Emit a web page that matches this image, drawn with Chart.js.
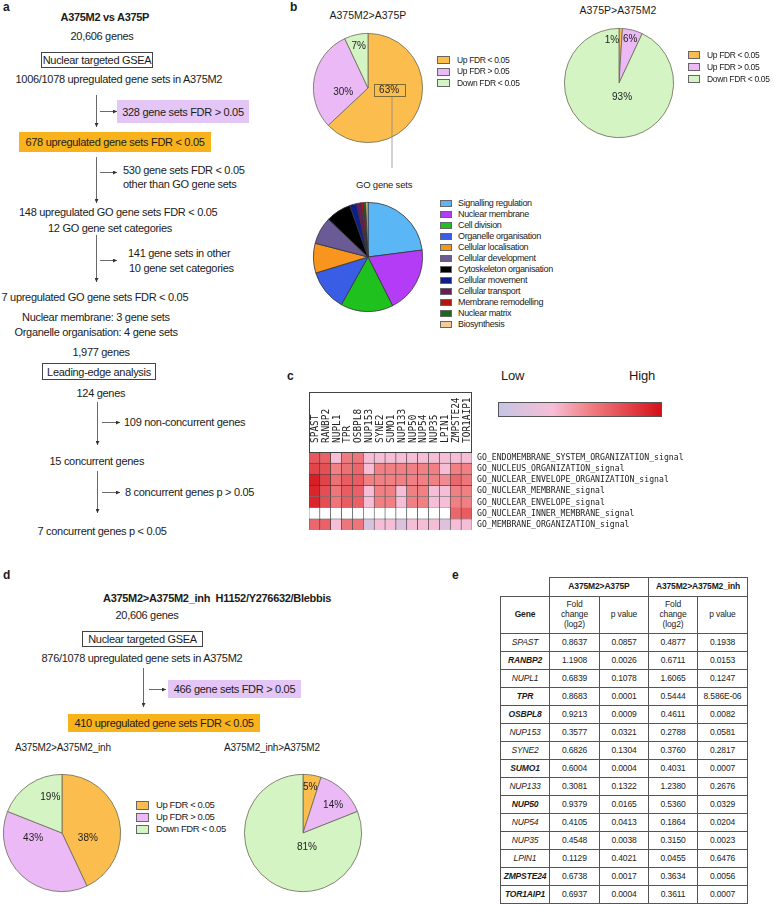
<!DOCTYPE html>
<html>
<head>
<meta charset="utf-8">
<script src="https://cdn.jsdelivr.net/npm/chart.js@4.4.1/dist/chart.umd.min.js"></script>
<style>
  body { margin: 0; background: #fff; }
  #page { position: relative; width: 779px; height: 905px; overflow: hidden;
          font-family: "Liberation Sans", Arial, sans-serif; color: #1b1b1b; }
  .t { position: absolute; white-space: nowrap; line-height: 1; font-size: 11px; letter-spacing: -0.3px; }
  .bold { font-weight: bold; }
  .panel { position: absolute; font-weight: bold; font-size: 12px; line-height: 1; }
  .frame { position: absolute; box-sizing: border-box; border: 1px solid #444; display: flex;
           align-items: center; justify-content: center; white-space: nowrap; font-size: 11px; letter-spacing: -0.3px; }
  .fill { position: absolute; box-sizing: border-box; display: flex; align-items: center;
          justify-content: center; white-space: nowrap; font-size: 11px; letter-spacing: -0.3px; }
  canvas { position: absolute; }
  .leg { position: absolute; white-space: nowrap; line-height: 1; }
  .leg i { position: absolute; box-sizing: border-box; border: 0.8px solid #666; }
  table { position: absolute; left: 500px; top: 577px; border-collapse: collapse; table-layout: fixed;
          font-size: 8.5px; letter-spacing: -0.15px; }
  td { border: 1px solid #555; text-align: center; padding: 0; line-height: 1.15; }
  svg { position: absolute; left: 0; top: 0; }
</style>
</head>
<body>
<div id="page">
  <canvas id="pieB1" width="114" height="114" style="left:311px;top:31px"></canvas>
  <canvas id="pieB2" width="114" height="114" style="left:562px;top:26px"></canvas>
  <canvas id="pieGO" width="114" height="114" style="left:311px;top:200px"></canvas>
  <canvas id="heat" width="470" height="146" style="left:300px;top:388px"></canvas>
  <canvas id="pieD1" width="122" height="122" style="left:1px;top:772px"></canvas>
  <canvas id="pieD2" width="122" height="122" style="left:242px;top:772px"></canvas>
</div>
<script>
// ---- data ----
const pieLabels = ['Up FDR < 0.05', 'Up FDR > 0.05', 'Down FDR < 0.05'];
const pieColors = ['#fbbd4e', '#ebb9f6', '#d4f4c4'];
const b1Values = [63, 30, 7];    // A375M2>A375P
const b2Values = [1, 6, 93];     // A375P>A375M2
const d1Values = [43, 38, 19];   // A375M2>A375M2_inh, slices as drawn
const d1Texts = ['38%', '43%', '19%'];  // percentages as printed on that pie
const d2Values = [5, 14, 81];    // A375M2_inh>A375M2

const goCategories = ['Signalling regulation', 'Nuclear membrane', 'Cell division', 'Organelle organisation',
  'Cellular localisation', 'Cellular development', 'Cytoskeleton organisation', 'Cellular movement',
  'Cellular transport', 'Membrane remodelling', 'Nuclear matrix', 'Biosynthesis'];
const goCounts = [34, 29, 23, 18, 13, 12, 11, 3, 2, 1, 1, 1];
const goColors = ['#5ab6f4', '#b43cf6', '#1fc11f', '#3a5de6', '#f7951e', '#6a5a96',
  '#000000', '#0c1f8a', '#6b1a5c', '#b3160f', '#1a6a1a', '#f6c99b'];

const heatGenes = ['SPAST', 'RANBP2', 'NUPL1', 'TPR', 'OSBPL8', 'NUP153', 'SYNE2', 'SUMO1',
  'NUP133', 'NUP50', 'NUP54', 'NUP35', 'LPIN1', 'ZMPSTE24', 'TOR1AIP1'];
const heatRows = ['GO_ENDOMEMBRANE_SYSTEM_ORGANIZATION_signal', 'GO_NUCLEUS_ORGANIZATION_signal',
  'GO_NUCLEAR_ENVELOPE_ORGANIZATION_signal', 'GO_NUCLEAR_MEMBRANE_signal', 'GO_NUCLEAR_ENVELOPE_signal',
  'GO_NUCLEAR_INNER_MEMBRANE_signal', 'GO_MEMBRANE_ORGANIZATION_signal'];
// relative signal, 0 = low, 1 = high, null = not in the gene set
const heatValues = [
  [0.72, 0.68, 0.33, 0.58, 0.60, 0.33, 0.33, 0.33, 0.33, 0.33, 0.33, 0.33, 0.33, 0.33, 0.33],
  [0.80, 0.75, 0.56, 0.62, 0.66, 0.33, 0.56, 0.56, 0.56, 0.56, 0.56, 0.56, 0.33, 0.56, 0.56],
  [0.95, 0.80, 0.62, 0.70, 0.70, 0.56, 0.56, 0.56, 0.56, 0.56, 0.56, 0.56, 0.52, 0.66, 0.60],
  [0.92, 0.76, 0.60, 0.70, 0.68, 0.33, 0.56, 0.56, 0.33, 0.56, 0.56, 0.33, 0.33, 0.56, 0.56],
  [0.92, 0.76, 0.60, 0.70, 0.68, 0.33, 0.56, 0.56, 0.33, 0.56, 0.56, 0.33, 0.33, 0.56, 0.56],
  [null, null, null, null, null, null, null, null, null, null, null, null, null, 0.66, 0.70],
  [0.66, 0.68, 0.33, 0.60, 0.60, 0.10, 0.33, 0.33, 0.15, 0.33, 0.33, 0.33, 0.15, 0.33, 0.33]
];
const heatStops = [[0, [198, 197, 228]], [0.33, [246, 190, 214]], [0.56, [240, 128, 132]], [1, [214, 16, 24]]];

const tableGenes = ['SPAST', 'RANBP2', 'NUPL1', 'TPR', 'OSBPL8', 'NUP153', 'SYNE2', 'SUMO1',
  'NUP133', 'NUP50', 'NUP54', 'NUP35', 'LPIN1', 'ZMPSTE24', 'TOR1AIP1'];
const fcM2P = ['0.8637', '1.1908', '0.6839', '0.8683', '0.9213', '0.3577', '0.6826', '0.6004',
  '0.3081', '0.9379', '0.4105', '0.4548', '0.1129', '0.6738', '0.6937'];
const pM2P = ['0.0857', '0.0026', '0.1078', '0.0001', '0.0009', '0.0321', '0.1304', '0.0004',
  '0.1322', '0.0165', '0.0413', '0.0038', '0.4021', '0.0017', '0.0004'];
const fcInh = ['0.4877', '0.6711', '1.6065', '0.5444', '0.4611', '0.2788', '0.3760', '0.4031',
  '1.2380', '0.5360', '0.1864', '0.3150', '0.0455', '0.3634', '0.3611'];
const pInh = ['0.1938', '0.0153', '0.1247', '8.586E-06', '0.0082', '0.0581', '0.2817', '0.0007',
  '0.2676', '0.0329', '0.0204', '0.0023', '0.6476', '0.0056', '0.0007'];
const boldGenes = ['RANBP2', 'TPR', 'OSBPL8', 'SUMO1', 'NUP50', 'ZMPSTE24', 'TOR1AIP1'];

// ---- page text ----
const page = document.getElementById('page');

function put(str, x, y, cls, align, extra) {
  const el = document.createElement('div');
  el.className = cls || 't';
  el.textContent = str;
  if (extra) Object.assign(el.style, extra);
  page.appendChild(el);
  const fs = parseFloat(getComputedStyle(el).fontSize);
  let left = x;
  if (align === 'center') left = x - el.offsetWidth / 2;
  el.style.left = left + 'px';
  el.style.top = (y - fs / 2) + 'px';
  return el;
}

function rect(str, x1, y1, x2, y2, cls, bg) {
  const el = document.createElement('div');
  el.className = cls;
  el.textContent = str;
  Object.assign(el.style, { left: x1 + 'px', top: y1 + 'px', width: (x2 - x1) + 'px', height: (y2 - y1) + 'px' });
  if (bg) el.style.background = bg;
  page.appendChild(el);
}

// panel letters
put('a', 3, 7, 'panel');
put('b', 290, 7, 'panel');
put('c', 287, 376, 'panel');
put('d', 3, 575, 'panel');
put('e', 452, 575, 'panel');

// panel a flow
put('A375M2 vs A375P', 105, 17, 't bold', 'center');
put('20,606 genes', 102, 36, 't', 'center');
rect('Nuclear targeted GSEA', 41, 52, 153, 68, 'frame');
put('1006/1078 upregulated gene sets in A375M2', 119, 79, 't', 'center');
rect('328 gene sets FDR > 0.05', 117, 100, 249, 123, 'fill', '#e4c6f6');
rect('678 upregulated gene sets FDR < 0.05', 19, 132, 211, 152, 'fill', '#f8b21c');
put('530 gene sets FDR < 0.05', 123, 170);
put('other than GO gene sets', 123, 184);
put('148 upregulated GO gene sets FDR < 0.05', 118, 212, 't', 'center');
put('12 GO gene set categories', 110, 228, 't', 'center');
put('141 gene sets in other', 128, 253);
put('10 gene set categories', 129, 268);
put('7 upregulated GO gene sets FDR < 0.05', 95, 297, 't', 'center');
put('Nuclear membrane: 3 gene sets', 96, 317, 't', 'center');
put('Organelle organisation: 4 gene sets', 96, 332, 't', 'center');
put('1,977 genes', 101, 352, 't', 'center');
rect('Leading-edge analysis', 42, 363, 156, 380, 'frame');
put('124 genes', 101, 393, 't', 'center');
put('109 non-concurrent genes', 124, 422);
put('15 concurrent genes', 97, 461, 't', 'center');
put('8 concurrent genes p > 0.05', 125, 492);
put('7 concurrent genes p < 0.05', 102, 531, 't', 'center');

// panel b titles
put('A375M2>A375P', 368, 15, 't', 'center', { fontSize: '10.5px', letterSpacing: '0' });
put('A375P>A375M2', 618, 10, 't', 'center', { fontSize: '10.5px', letterSpacing: '0' });
put('GO gene sets', 384, 185, 't', 'center', { fontSize: '9.5px', letterSpacing: '-0.2px' });

// panel c scale
put('Low', 501, 375, 't', null, { fontSize: '13px', letterSpacing: '-0.2px' });
put('High', 629, 375, 't', null, { fontSize: '13px', letterSpacing: '-0.2px' });

// panel d flow
put('A375M2>A375M2_inh  H1152/Y276632/Blebbis', 217, 598, 't bold', 'center', { whiteSpace: 'pre' });
put('20,606 genes', 147, 615, 't', 'center');
rect('Nuclear targeted GSEA', 82, 631, 203, 647, 'frame');
put('876/1078 upregulated gene sets in A375M2', 142, 658, 't', 'center');
rect('466 gene sets FDR > 0.05', 168, 680, 301, 698, 'fill', '#e4c6f6');
rect('410 upregulated gene sets FDR < 0.05', 68, 714, 260, 732, 'fill', '#f8b21c');
put('A375M2>A375M2_inh', 15, 748, 't', null, { fontSize: '10px', letterSpacing: '-0.2px' });
put('A375M2_inh>A375M2', 224, 748, 't', null, { fontSize: '10px', letterSpacing: '-0.2px' });

// legends
function legend(x, y, step, labels, colors, fs, ls, bw, bh, gap) {
  labels.forEach((lab, i) => {
    const el = document.createElement('div');
    el.className = 'leg';
    el.style.left = x + 'px';
    el.style.top = (y + i * step - fs / 2) + 'px';
    el.style.fontSize = fs + 'px';
    el.style.letterSpacing = ls + 'px';
    el.style.paddingLeft = (bw + gap) + 'px';
    el.textContent = lab;
    const sw = document.createElement('i');
    Object.assign(sw.style, { left: '0px', top: ((fs - bh) / 2) + 'px', width: bw + 'px', height: bh + 'px', background: colors[i] });
    el.appendChild(sw);
    page.appendChild(el);
  });
}
legend(437, 60, 11.5, pieLabels, pieColors, 8.5, -0.35, 13, 8, 7);
legend(688, 55, 12, pieLabels, pieColors, 8.5, -0.35, 12, 8, 7);
legend(440, 203, 11, goCategories, goColors, 9, -0.35, 12, 7, 6);
legend(136, 805, 12, pieLabels, pieColors, 9.5, -0.4, 13, 9, 7);

// colour scale for heatmap
function heatColor(v) {
  if (v === null) return '#ffffff';
  for (let k = 1; k < heatStops.length; k++) {
    const [p1, c1] = heatStops[k];
    const [p0, c0] = heatStops[k - 1];
    if (v <= p1) {
      const f = (v - p0) / (p1 - p0);
      const c = c0.map((ch, j) => Math.round(ch + (c1[j] - ch) * f));
      return `rgb(${c[0]},${c[1]},${c[2]})`;
    }
  }
  return 'rgb(214,16,24)';
}
const bar = document.createElement('div');
Object.assign(bar.style, {
  position: 'absolute', left: '498px', top: '402px', width: '164px', height: '15px', boxSizing: 'border-box',
  border: '1px solid #555',
  background: 'linear-gradient(to right,' + heatStops.map(s => heatColor(s[0]) + ' ' + (s[0] * 100) + '%').join(',') + ')'
});
page.appendChild(bar);

// header frame over the column labels
rect('', 309, 392, 472, 453, 'frame');

// table e
const tbl = document.createElement('table');
let html = '<colgroup><col style="width:49px"><col style="width:50px"><col style="width:49px"><col style="width:49px"><col style="width:50px"></colgroup>';
html += '<tr style="height:19px"><td style="border-top:none;border-left:none"></td>' +
  '<td colspan="2" style="font-weight:bold">A375M2&gt;A375P</td><td colspan="2" style="font-weight:bold">A375M2&gt;A375M2_inh</td></tr>';
html += '<tr style="height:37px"><td style="font-weight:bold">Gene</td><td>Fold<br>change<br>(log2)</td><td>p value</td>' +
  '<td>Fold<br>change<br>(log2)</td><td>p value</td></tr>';
tableGenes.forEach((g, i) => {
  const b = boldGenes.includes(g) ? 'font-weight:bold;' : '';
  html += `<tr style="height:18px"><td style="font-style:italic;${b}">${g}</td><td>${fcM2P[i]}</td><td>${pM2P[i]}</td>` +
    `<td>${fcInh[i]}</td><td>${pInh[i]}</td></tr>`;
});
tbl.innerHTML = html;
page.appendChild(tbl);

// arrows and connector lines
const NS = 'http://www.w3.org/2000/svg';
const svg = document.createElementNS(NS, 'svg');
svg.setAttribute('width', 779);
svg.setAttribute('height', 905);
svg.innerHTML = '<defs><marker id="ah" markerWidth="4" markerHeight="4" refX="4" refY="2" orient="auto" markerUnits="userSpaceOnUse">' +
  '<path d="M0,0 L4,2 L0,4 z" fill="#333"/></marker></defs>';
function line(x1, y1, x2, y2, arrow, color) {
  const l = document.createElementNS(NS, 'line');
  l.setAttribute('x1', x1); l.setAttribute('y1', y1);
  l.setAttribute('x2', x2); l.setAttribute('y2', y2);
  l.setAttribute('stroke', color || '#444');
  l.setAttribute('stroke-width', '0.8');
  if (arrow) l.setAttribute('marker-end', 'url(#ah)');
  svg.appendChild(l);
}
[[95, 127, 111], [157, 203, 172], [235, 282, 260]].forEach(([a, b, h]) => {
  line(96.5, a, 96.5, b, true);
  line(100, h + 0.5, 117, h + 0.5, true);
});
[[402, 445, 422], [471, 513, 492]].forEach(([a, b, h]) => {
  line(97.5, a, 97.5, b, true);
  line(102, h + 0.5, 120, h + 0.5, true);
});
line(143.5, 668, 143.5, 707, true);
line(149, 689.5, 166, 689.5, true);
line(392, 97, 392, 168, false, '#8a8a8a');
page.appendChild(svg);

// ---- charts ----
const sliceText = {
  id: 'sliceText',
  afterDatasetsDraw(chart, args, opts) {
    const ctx = chart.ctx;
    const arcs = chart.getDatasetMeta(0).data;
    const values = chart.data.datasets[0].data;
    ctx.save();
    ctx.font = '10px "Liberation Sans", Arial';
    ctx.fillStyle = '#222';
    ctx.textAlign = 'center';
    ctx.textBaseline = 'middle';
    arcs.forEach((arc, i) => {
      const p = arc.getProps(['x', 'y', 'startAngle', 'endAngle', 'outerRadius'], true);
      const place = opts.place[i];
      const a = (p.startAngle + p.endAngle) / 2 + place[1] * Math.PI / 180;
      const r = p.outerRadius * place[0];
      const x = p.x + Math.cos(a) * r;
      const y = p.y + Math.sin(a) * r;
      const txt = opts.texts ? opts.texts[i] : values[i] + '%';
      ctx.fillText(txt, x, y);
      if (opts.boxed === i) {
        ctx.strokeStyle = '#7d6b35';
        ctx.lineWidth = 1;
        ctx.strokeRect(Math.round(x - 15.5) + 0.5, Math.round(y - 6.5) + 0.5, 31, 12);
      }
    });
    ctx.restore();
  }
};

function pie(id, labels, values, colors, border, pad, labelOpts) {
  return new Chart(document.getElementById(id), {
    type: 'pie',
    data: { labels: labels, datasets: [{ data: values, backgroundColor: colors, borderColor: border, borderWidth: 0.8 }] },
    options: {
      responsive: false,
      animation: false,
      layout: { padding: pad },
      plugins: {
        legend: { display: false },
        tooltip: { enabled: false },
        sliceText: labelOpts
      }
    },
    plugins: labelOpts ? [sliceText] : []
  });
}

pie('pieB1', pieLabels, b1Values, pieColors, '#6a6a55', 2,
  { place: [[0.39, -16], [0.46, -20], [0.78, 0]], boxed: 0 });
pie('pieB2', pieLabels, b2Values, pieColors, '#6a6a55', 2,
  { place: [[0.8, -11], [0.82, 0], [0.26, -25]] });
pie('pieGO', goCategories, goCounts, goColors, '#333', 2, null);
pie('pieD1', pieLabels, d1Values, pieColors, '#6a6a55', 2,
  { texts: d1Texts, place: [[0.45, 24], [0.5, 37], [0.64, 16]] });
pie('pieD2', pieLabels, d2Values, pieColors, '#6a6a55', 2,
  { place: [[0.79, 0], [0.7, 4], [0.26, -49]] });

// heatmap: each gene is a stacked column of unit cells, one dataset per GO set
const heatSets = heatRows.map((row, r) => ({
  label: row,
  data: heatGenes.map(() => 1),
  backgroundColor: heatValues[r].map(heatColor),
  borderColor: '#3c3c3c',
  borderWidth: 0.6,
  barPercentage: 1,
  categoryPercentage: 1
})).reverse();

// gene names (rotated, above) and gene-set names (right), placed with the chart's scales
const heatLabels = {
  id: 'heatLabels',
  afterDraw(chart) {
    const { ctx, chartArea, scales } = chart;
    ctx.save();
    ctx.fillStyle = '#222';
    ctx.textAlign = 'left';
    ctx.textBaseline = 'middle';
    ctx.font = '11px "DejaVu Sans Mono"';
    heatGenes.forEach((g, i) => {
      ctx.save();
      ctx.translate(scales.x.getPixelForValue(i) + 0.5, chartArea.top - 9);
      ctx.rotate(-Math.PI / 2);
      ctx.scale(0.86, 1);
      ctx.fillText(g, 0, 0);
      ctx.restore();
    });
    ctx.font = '9.5px "DejaVu Sans Mono"';
    heatRows.forEach((row, r) => {
      ctx.save();
      ctx.translate(chartArea.right + 5, scales.y.getPixelForValue(heatRows.length - r - 0.5));
      ctx.scale(0.86, 1);
      ctx.fillText(row, 0, 0);
      ctx.restore();
    });
    ctx.restore();
  }
};

new Chart(document.getElementById('heat'), {
  type: 'bar',
  data: { labels: heatGenes, datasets: heatSets },
  options: {
    responsive: false,
    animation: false,
    layout: { padding: { left: 9, top: 64, right: 298, bottom: 4 } },
    plugins: { legend: { display: false }, tooltip: { enabled: false } },
    scales: {
      x: { display: false, stacked: true, offset: true },
      y: { display: false, stacked: true, min: 0, max: heatRows.length }
    }
  },
  plugins: [heatLabels]
});
</script>
</body>
</html>
